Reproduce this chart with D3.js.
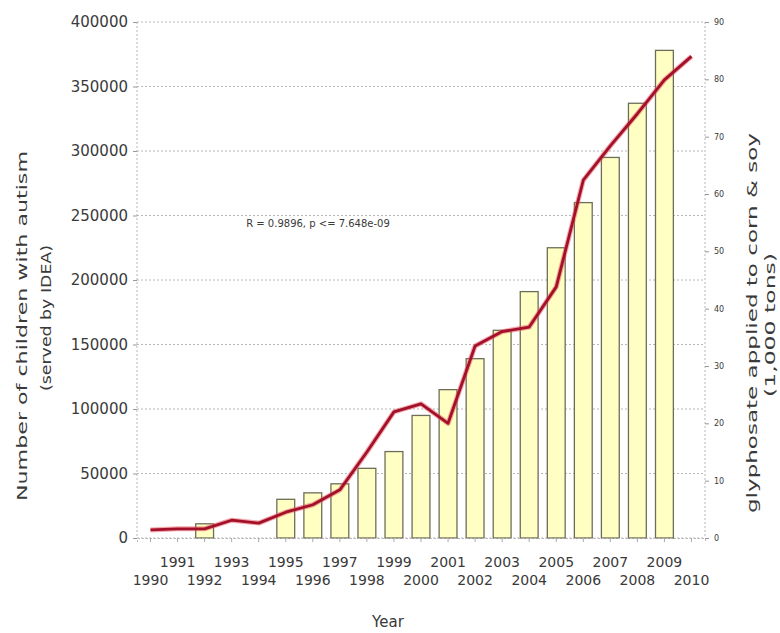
<!DOCTYPE html>
<html>
<head>
<meta charset="utf-8">
<script src="https://cdn.jsdelivr.net/npm/d3@7"></script>
<style>
  body { margin: 0; background: #fff; }
  text { font-family: "DejaVu Sans", sans-serif; fill: #3a3a3a; }
</style>
</head>
<body>
<div id="chart"></div>
<script>
// years on the x axis
const years = d3.range(1990, 2011);
// children with autism served by IDEA (bars, left axis)
const autismYears = [1992, 1995, 1996, 1997, 1998, 1999, 2000, 2001, 2002, 2003, 2004, 2005, 2006, 2007, 2008, 2009];
const autismCounts = [11000, 30000, 35000, 42000, 54000, 67000, 95000, 115000, 139000, 161000, 191000, 225000, 260000, 295000, 337000, 378000];
// glyphosate applied to corn & soy, 1,000 tons (line, right axis)
const glyphYears = years;
const glyphTons = [1.4, 1.6, 1.6, 3.1, 2.6, 4.5, 5.8, 8.4, 15, 22, 23.4, 20, 33.5, 36, 36.8, 43.8, 62.4, 68.4, 74, 79.9, 84];
const leftTicks = [0, 50000, 100000, 150000, 200000, 250000, 300000, 350000, 400000];
const rightTicks = [0, 10, 20, 30, 40, 50, 60, 70, 80, 90];
const note = "R = 0.9896, p <= 7.648e-09";

let width = 780, height = 633;
let plot = {left: 137, right: 705, top: 22, bottom: 538};

let svg = d3.select("#chart").append("svg")
    .attr("width", width)
    .attr("height", height);

let xBand = d3.scaleBand()
    .domain(years)
    .range([plot.left, plot.right])
    .paddingInner(0.34)
    .paddingOuter(0.17);
let xc = d => xBand(d) + xBand.bandwidth() / 2;

let yLeft = d3.scaleLinear().domain([0, 400000]).range([plot.bottom, plot.top]);
let yRight = d3.scaleLinear().domain([0, 90]).range([plot.bottom, plot.top]);

// grid lines
svg.append("g").selectAll("line")
    .data(leftTicks)
    .enter().append("line")
    .attr("x1", plot.left).attr("x2", plot.right)
    .attr("y1", d => yLeft(d)).attr("y2", d => yLeft(d))
    .attr("stroke", "#b8b8b8")
    .attr("stroke-width", 1)
    .attr("stroke-dasharray", "2,2");

// frame sides (dotted)
svg.append("line")
    .attr("x1", plot.left).attr("x2", plot.left)
    .attr("y1", plot.top).attr("y2", plot.bottom)
    .attr("stroke", "#b8b8b8").attr("stroke-dasharray", "2,2");
svg.append("line")
    .attr("x1", plot.right).attr("x2", plot.right)
    .attr("y1", plot.top).attr("y2", plot.bottom)
    .attr("stroke", "#b8b8b8").attr("stroke-dasharray", "2,2");

// bars
let barData = autismYears.map((y, i) => ({year: y, value: autismCounts[i]}));
svg.append("g").selectAll("rect")
    .data(barData)
    .enter().append("rect")
    .attr("x", d => xBand(d.year))
    .attr("y", d => yLeft(d.value))
    .attr("width", xBand.bandwidth())
    .attr("height", d => yLeft(0) - yLeft(d.value))
    .attr("fill", "#ffffc4")
    .attr("stroke", "#6e6e58")
    .attr("stroke-width", 1.3);

// glyphosate line
let lineData = glyphYears.map((y, i) => ({year: y, value: glyphTons[i]}));
let line = d3.line().x(d => xc(d.year)).y(d => yRight(d.value));
svg.append("path")
    .datum(lineData)
    .attr("d", line)
    .attr("fill", "none")
    .attr("stroke", "#e8505a")
    .attr("stroke-opacity", 0.5)
    .attr("stroke-width", 5)
    .attr("stroke-linejoin", "round");
svg.append("path")
    .datum(lineData)
    .attr("d", line)
    .attr("fill", "none")
    .attr("stroke", "#a3102a")
    .attr("stroke-width", 2.8)
    .attr("stroke-linejoin", "round");

// left axis
let yAxisL = svg.append("g")
    .attr("transform", "translate(" + plot.left + ",0)")
    .call(d3.axisLeft(yLeft).tickValues(leftTicks).tickSize(4).tickPadding(5).tickFormat(d3.format("d")));
yAxisL.select(".domain").remove();
yAxisL.selectAll("line").attr("stroke", "#999");
yAxisL.selectAll("text").style("font-size", "15px").attr("fill", "#444");

// right axis
let yAxisR = svg.append("g")
    .attr("transform", "translate(" + plot.right + ",0)")
    .call(d3.axisRight(yRight).tickValues(rightTicks).tickSize(4).tickPadding(5));
yAxisR.select(".domain").remove();
yAxisR.selectAll("line").attr("stroke", "#999");
yAxisR.selectAll("text").style("font-size", "8px").attr("fill", "#666");

// x axis, two staggered rows of year labels
let xAxis = svg.append("g")
    .attr("transform", "translate(0," + plot.bottom + ")")
    .call(d3.axisBottom(xBand).tickSize(4).tickPadding(6).tickFormat(d => d));
xAxis.select(".domain")
    .attr("stroke", "#b8b8b8").attr("stroke-dasharray", "2,2");
xAxis.selectAll("line").attr("stroke", "#aaa");
xAxis.selectAll("text")
    .style("font-size", "14px")
    .attr("fill", "#444")
    .attr("dy", d => d % 2 === 1 ? "1.36em" : "2.64em");

// note
svg.append("text")
    .attr("x", 318).attr("y", 227)
    .attr("text-anchor", "middle")
    .style("font-size", "10px")
    .attr("fill", "#555")
    .text(note);

// axis titles
svg.append("text")
    .attr("x", 388).attr("y", 627)
    .attr("text-anchor", "middle")
    .style("font-size", "15px")
    .attr("fill", "#444")
    .text("Year");

svg.append("text")
    .attr("transform", "translate(27,326) rotate(-90)")
    .attr("text-anchor", "middle")
    .attr("textLength", 350).attr("lengthAdjust", "spacingAndGlyphs")
    .style("font-size", "14.5px")
    .attr("fill", "#444")
    .text("Number of children with autism");
svg.append("text")
    .attr("transform", "translate(51,318) rotate(-90)")
    .attr("text-anchor", "middle")
    .attr("textLength", 146).attr("lengthAdjust", "spacingAndGlyphs")
    .style("font-size", "14.5px")
    .attr("fill", "#444")
    .text("(served by IDEA)");

svg.append("text")
    .attr("transform", "translate(757,323) rotate(-90)")
    .attr("text-anchor", "middle")
    .attr("textLength", 380).attr("lengthAdjust", "spacingAndGlyphs")
    .style("font-size", "14.5px")
    .attr("fill", "#444")
    .text("glyphosate applied to corn & soy");
svg.append("text")
    .attr("transform", "translate(775,325) rotate(-90)")
    .attr("text-anchor", "middle")
    .attr("textLength", 144).attr("lengthAdjust", "spacingAndGlyphs")
    .style("font-size", "14.5px")
    .attr("fill", "#444")
    .text("(1,000 tons)");
</script>
</body>
</html>
